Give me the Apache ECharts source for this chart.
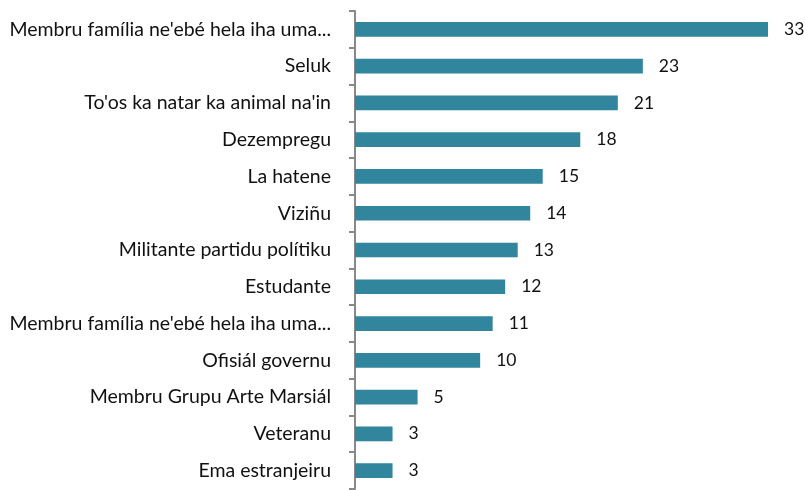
<!DOCTYPE html>
<html>
<head>
<meta charset="utf-8">
<script src="https://cdn.jsdelivr.net/npm/echarts@6/dist/echarts.min.js"></script>
<style>
  html, body { margin: 0; padding: 0; background: #fff; }
  #chart { width: 805px; height: 490px; }
</style>
</head>
<body>
<div id="chart"></div>
<script>
// categories from top to bottom
const categories = [
  "Membru família ne'ebé hela iha uma...",
  'Seluk',
  "To'os ka natar ka animal na'in",
  'Dezempregu',
  'La hatene',
  'Viziñu',
  'Militante partidu polítiku',
  'Estudante',
  "Membru família ne'ebé hela iha uma...",
  'Ofisiál governu',
  'Membru Grupu Arte Marsiál',
  'Veteranu',
  'Ema estranjeiru'
]
const values = [33, 23, 21, 18, 15, 14, 13, 12, 11, 10, 5, 3, 3]

const fontFamily = 'Lato, "Open Sans", sans-serif'
const chart = echarts.init(document.getElementById('chart'))

const option = {
  animation: false,
  textStyle: { fontFamily },
  grid: {
    left: 355,
    right: 37,
    top: 11,
    bottom: 1,
    containLabel: false
  },
  xAxis: {
    type: 'value',
    min: 0,
    max: 33,
    show: false
  },
  yAxis: {
    type: 'category',
    inverse: true,
    data: categories,
    axisLine: { show: true, lineStyle: { color: '#888888', width: 2 } },
    axisTick: { show: true, length: 6, lineStyle: { color: '#888888', width: 2 } },
    axisLabel: {
      color: '#111111',
      fontSize: 19.5,
      margin: 24,
      fontFamily
    }
  },
  series: [
    {
      type: 'bar',
      data: values,
      barWidth: '40%',
      itemStyle: { color: '#31859C' },
      label: {
        show: true,
        position: 'right',
        distance: 16,
        color: '#111111',
        fontSize: 17.5,
        fontFamily
      }
    }
  ]
}
chart.setOption(option)
window.addEventListener('resize', () => chart.resize())
</script>
</body>
</html>
